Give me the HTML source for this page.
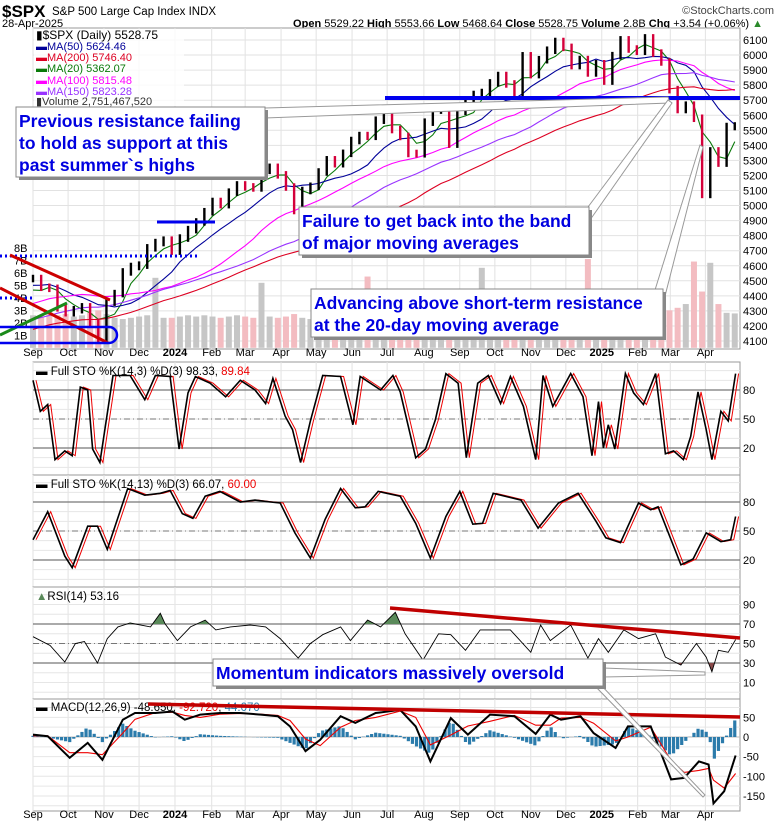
<!DOCTYPE html>
<html><head><meta charset="utf-8"><style>
html,body{margin:0;padding:0;background:#fff}
svg{display:block;font-family:"Liberation Sans",sans-serif}
.ax{font-size:11px;fill:#000}
.callout{font-weight:bold;fill:#0000e0;font-size:17.5px}
</style></head><body>
<svg id="chart" width="780" height="828" viewBox="0 0 780 828">
<g id="header">
<text x="2" y="17" font-size="17" font-weight="bold">$SPX</text>
<text x="52" y="15" font-size="11.5">S&amp;P 500 Large Cap Index  INDX</text>
<text x="2" y="27" font-size="11">28-Apr-2025</text>
<text x="774" y="14" font-size="11" text-anchor="end" fill="#444">©StockCharts.com</text>
<text x="763" y="27" font-size="11" text-anchor="end"><tspan font-weight="bold">Open</tspan> 5529.22 <tspan font-weight="bold">High</tspan> 5553.66 <tspan font-weight="bold">Low</tspan> 5468.64 <tspan font-weight="bold">Close</tspan> 5528.75 <tspan font-weight="bold">Volume</tspan> 2.8B <tspan font-weight="bold">Chg</tspan> +3.54 (+0.06%) <tspan fill="#2a8a2a">▲</tspan></text>
</g>
<g id="grid"></g>
<g id="marks"></g>
<g id="overlay"></g>
</svg>
<script>
// ---------- data ----------
const histCloses=[3990,4026,4071,3934,3852,3895,3844,3839,3895,3999,3972,4070,4136,4090,4079,3970,3970,4045,3861,3916,3971,3970,4109,4105,4137,4133,4135,4136,4124,4191,4151,4205,4282,4298,4409,4348,4450,4398,4505,4536,4582,4478,4464,4369,4405];
const closes=[4515,4457,4450,4320,4288,4308,4327,4224,4117,4358,4415,4559,4595,4604,4719,4754,4770,4697,4784,4840,4891,4959,5027,5006,5089,5137,5124,5117,5234,5254,5204,5123,4967,5100,5128,5223,5304,5278,5347,5432,5465,5460,5567,5615,5505,5459,5346,5344,5554,5634,5648,5408,5626,5702,5738,5751,5815,5864,5808,5728,5995,5870,5969,6032,6090,6051,5930,5970,5881,5942,5827,5996,6101,6040,6025,6114,6013,5954,5770,5638,5667,5580,5074,5363,5282,5525,5528.75];
const volumes=[2.6,2.5,3.0,2.6,2.7,2.5,2.6,2.8,3.0,2.7,2.4,2.3,2.4,2.5,2.6,5.6,2.4,2.4,2.5,2.6,2.5,2.6,2.5,2.4,2.5,2.6,2.5,2.4,5.2,2.5,2.4,2.5,2.7,2.4,2.3,2.3,2.5,2.4,2.4,2.5,2.4,5.7,2.4,2.4,2.6,2.6,2.8,2.5,2.4,2.3,2.3,2.4,2.4,2.5,2.4,6.4,2.4,2.5,2.5,2.6,2.7,2.5,2.4,2.5,2.6,2.5,2.5,2.5,7.1,2.6,2.6,2.8,2.5,2.6,2.5,2.5,2.6,2.8,3.0,3.2,3.5,6.9,4.5,6.8,3.5,2.8,2.75];
const maPeriods=[4,10,20,30,40];
const maColors=["#0a7a0a","#000099","#ff00ff","#9933ff","#dd0022"];
const priceTicks=[4100,4200,4300,4400,4500,4600,4700,4800,4900,5000,5100,5200,5300,5400,5500,5600,5700,5800,5900,6000,6100];
const volTicks=[1,2,3,4,5,6,7,8];
const monthLabels=["Sep","Oct","Nov","Dec","2024","Feb","Mar","Apr","May","Jun","Jul","Aug","Sep","Oct","Nov","Dec","2025","Feb","Mar","Apr"];
const monthWeeks=[0,4.3,8.7,13,17.4,21.9,26,30.4,34.7,39.1,43.4,47.9,52.3,56.6,61,65.3,69.7,74.1,78.1,82.4];
const sto1Weeks=[0,0.9,1.8,2.7,3.9,4.8,5.8,6.7,7.3,8.2,9.8,11.9,13.7,15,16.8,17.9,19,19.9,21.7,23.6,25.4,27.2,28.5,29.4,30.9,31.8,32.8,34,35.5,37.7,39.2,40.1,42.6,44.1,45,46.9,48.1,49.3,50.6,52.1,53.1,54.5,55.8,57.3,58.5,60.1,61.6,62.5,63.7,65.9,67.4,68.5,69.3,69.9,70.5,71.3,72.6,73.6,74.8,76.3,77.5,78.5,79.7,80.6,81.5,82.5,83.2,84.3,85.2,86.1];
const sto1K=[90,58,65,8,17,12,83,80,19,5,95,95,70,95,94,19,77,94,87,73,90,80,66,92,53,39,5,48,95,94,44,94,80,95,78,10,19,49,97,87,10,87,95,66,94,63,8,95,63,97,73,12,68,20,44,19,97,77,65,97,14,17,8,32,78,39,8,58,48,97];
const sto2Weeks=[0,1.8,3.9,4.8,6.7,7.9,9.1,11.6,13.7,15.6,16.8,18.3,19.6,21.1,22.9,25.4,27.2,29.1,30.3,32.1,34,35.8,37.7,39.5,40.7,42.3,45,46.9,48.7,50.6,52.3,53.9,55.1,56.4,59.8,61.9,64.4,66.8,69,70.2,72,74.2,75.7,76.6,79.4,80.9,82.5,84.3,85.5,86.1];
const sto2K=[41,70,24,12,55,55,31,94,87,89,92,68,63,86,91,80,82,80,79,48,22,62,94,74,75,91,86,58,22,65,91,57,58,89,82,53,79,89,60,43,38,79,72,75,15,21,48,39,41,65];
const rsiWeeks=[0,2.1,3.9,5.2,6.3,7.9,9.1,10.4,11.9,14.4,15.6,16.2,17.7,19.3,21.1,22.4,24.2,26.6,28.5,30.3,32.5,34,35.5,37.7,38.9,41,42.6,44.4,45.6,47.8,49.7,51.2,53,54.8,56.7,58.5,61,62.2,63.4,65.9,68,69.3,70.5,72.4,74.2,76.3,77.5,79.4,81.3,82.5,83.2,84,85.2,86.1];
const rsiVals=[57,48,31,50,52,30,55,67,71,67,81,70,53,67,74,64,67,69,67,55,35,50,59,67,53,74,67,82,60,33,60,59,43,64,64,64,41,69,53,69,35,55,41,64,55,60,36,28,50,36,21,43,41,54];
const macdWeeks=[0,1.8,4.5,6.7,8.5,11,12.5,15,17.1,18.6,20.5,22.9,25.4,27.9,30,31.5,33.4,35.2,37.7,39.5,42,45,46.9,48.7,51.2,53.3,56,59,61.6,63.4,64.7,67.1,68.7,71.4,72.9,75.7,78.2,79.8,81.6,82.8,83.4,84.7,86.1];
const macdVals=[6,2,-53,-15,-58,44,61,61,65,44,57,61,61,57,53,27,-36,-7,53,36,61,69,27,-62,48,6,57,53,8,57,44,53,10,-28,27,27,-108,-104,-62,-70,-169,-138,-47];
const macdSignal=[3,3,-40,-40,-45,10,45,62,63,55,50,58,60,58,55,42,-5,-22,25,42,50,66,50,-20,5,28,40,55,30,30,48,50,35,-10,0,25,-60,-90,-85,-80,-110,-130,-93];
const rsiTicks=[10,30,50,70,90];
const stoTicks=[20,50,80];
const macdTicks=[50,0,-50,-100,-150];

// ---------- scales ----------
const X0=33,X1=740;
const xw=w=>X0+w*8.16;
const yP=p=>40+(6100-p)*0.1505;
const yV=v=>347.8-v*12.5;
const yS1=v=>419-(v-50)*0.967;
const yS2=v=>531-(v-50)*0.967;
const yR=v=>643.5-(v-50)*0.975;
const yM=v=>737-v*0.393;
const NS="http://www.w3.org/2000/svg";
const grid=document.getElementById('grid'),marks=document.getElementById('marks'),overlay=document.getElementById('overlay');
function mk(tag,attrs,parent){const e=document.createElementNS(NS,tag);for(const k in attrs)e.setAttribute(k,attrs[k]);parent.appendChild(e);return e;}
function interp(ws,vs,w){if(w<=ws[0])return vs[0];for(let i=1;i<ws.length;i++){if(w<=ws[i]){const t=(w-ws[i-1])/(ws[i]-ws[i-1]);return vs[i-1]+t*(vs[i]-vs[i-1]);}}return vs[vs.length-1];}
function pathOf(ws,vs,ys,dx){return ws.map((w,i)=>(i?'L':'M')+(xw(w)+(dx||0)).toFixed(1)+' '+ys(vs[i]).toFixed(1)).join(' ');}

const panels=[[28,349,'main-panel'],[362,475,'sto-fast-panel'],[475,587,'sto-slow-panel'],[587,699,'rsi-panel'],[699,811,'macd-panel']];
panels.forEach(p=>{
  const r=mk('rect',{x:X0,y:p[0],width:X1-X0,height:p[1]-p[0],fill:'#fff',stroke:'#999','stroke-width':1},grid);
  
  
  monthWeeks.forEach(w=>{const l=mk('line',{x1:xw(w),x2:xw(w),y1:p[0],y2:p[1],stroke:'#e2e2e2'},grid);
    
    });
});
priceTicks.forEach(p=>{
  const l=mk('line',{x1:X0,x2:X1,y1:yP(p),y2:yP(p),stroke:'#e2e2e2'},grid);
  
  
  const t=mk('text',{x:743,y:yP(p)+4,class:'ax'},grid);t.textContent=p;
  
  
});
volTicks.forEach(v=>{const t=mk('text',{x:14,y:yV(v)+4,class:'ax'},grid);t.textContent=v+'B';
  
  });
[[356],[818]].forEach(r=>{
  monthLabels.forEach((m,i)=>{const t=mk('text',{x:xw(monthWeeks[i]),y:r[0],class:'ax','text-anchor':'middle','font-weight':(m.length===4?'bold':'normal')},grid);t.textContent=m;
    
    });
});
function oscGrid(ys,ticks,major,mid,lo,hi,step,name){
  for(let v=lo;v<=hi;v+=step){const l=mk('line',{x1:X0,x2:X1,y1:ys(v),y2:ys(v),stroke:'#e6e6e6'},grid);
    
    }
  major.forEach(v=>{const l=mk('line',{x1:X0,x2:X1,y1:ys(v),y2:ys(v),stroke:'#777','stroke-width':1.3},grid);
    
    });
  if(mid!==null){const l=mk('line',{x1:X0,x2:X1,y1:ys(mid),y2:ys(mid),stroke:'#777','stroke-dasharray':'6,3,1,3'},grid);
    
    }
  ticks.forEach(v=>{const t=mk('text',{x:743,y:ys(v)+4,class:'ax'},grid);t.textContent=v;
    
    });
}
oscGrid(yS1,stoTicks,[20,80],50,0,100,10,'sto-fast');
oscGrid(yS2,stoTicks,[20,80],50,0,100,10,'sto-slow');
oscGrid(yR,rsiTicks,[30,70],50,0,100,10,'rsi');
oscGrid(yM,macdTicks,[],null,-175,75,25,'macd');
{const l=mk('line',{x1:X0,x2:X1,y1:yM(0),y2:yM(0),stroke:'#bbb'},grid);}

volumes.forEach((v,i)=>{
  const up=i===0||closes[i]>=closes[i-1];
  const b=mk('rect',{x:xw(i)-3,y:yV(v),width:6,height:yV(0)-yV(v),fill:up?'#c6c6c6':'#f3bcc1'},marks);
  
  
});
const all=histCloses.concat(closes);
maPeriods.forEach((n,k)=>{
  let d='';
  closes.forEach((c,i)=>{const j=i+histCloses.length;let s=0;for(let q=j-n+1;q<=j;q++)s+=all[q];d+=(i?'L':'M')+xw(i).toFixed(1)+' '+yP(s/n).toFixed(1)+' ';});
  const p=mk('path',{d:d,fill:'none',stroke:maColors[k],'stroke-width':1.1},marks);
  
  
});
closes.forEach((c,i)=>{
  const prev=i?closes[i-1]:c;
  const hi=Math.max(c,prev)+25,lo=Math.min(c,prev)-25;
  const up=c>=prev;
  const b=mk('rect',{x:xw(i)-1.2,y:yP(hi),width:2.4,height:yP(lo)-yP(hi),fill:up?'#000':'#d4003a'},marks);
  
  
});
function osc(ws,vs,ys,name,lag,black){
  const r=mk('path',{d:pathOf(ws,vs,ys,lag),fill:'none',stroke:'#e00','stroke-width':1},marks);
  
  
  const b=mk('path',{d:pathOf(ws,vs,ys,0),fill:'none',stroke:'#000','stroke-width':black},marks);
  
  
}
osc(sto1Weeks,sto1K,yS1,'sto-fast',3,1.6);
osc(sto2Weeks,sto2K,yS2,'sto-slow',3,1.6);
const defs=mk('defs',{},marks);
const c1=mk('clipPath',{id:'above70'},defs);mk('rect',{x:X0,y:587,width:X1-X0,height:yR(70)-587},c1);
const c2=mk('clipPath',{id:'below30'},defs);mk('rect',{x:X0,y:yR(30),width:X1-X0,height:699-yR(30)},c2);
const rd=pathOf(rsiWeeks,rsiVals,yR,0);
const f1=mk('path',{d:rd+' L'+xw(86.1)+' '+yR(70)+' L'+xw(0)+' '+yR(70)+' Z',fill:'#5a8a5a','clip-path':'url(#above70)'},marks);

const f2=mk('path',{d:rd+' L'+xw(86.1)+' '+yR(30)+' L'+xw(0)+' '+yR(30)+' Z',fill:'#8a4a4a','clip-path':'url(#below30)'},marks);

{const p=mk('path',{d:rd,fill:'none',stroke:'#000','stroke-width':0.9},marks);}
for(let w=0;w<=86;w+=0.5){
  const h=interp(macdWeeks,macdVals,w)-interp(macdWeeks,macdSignal,w);
  const r=mk('rect',{x:xw(w)-1.6,y:Math.min(yM(0),yM(h)),width:3.2,height:Math.abs(yM(h)-yM(0)),fill:'#2b7bab'},marks);
  
  
}
{const p=mk('path',{d:pathOf(macdWeeks,macdSignal,yM,0),fill:'none',stroke:'#e00','stroke-width':1.1},marks);}
{const p=mk('path',{d:pathOf(macdWeeks,macdVals,yM,0),fill:'none',stroke:'#000','stroke-width':2},marks);}
</script>
<svg width="780" height="828" viewBox="0 0 780 828" style="position:absolute;left:0;top:0">
<g font-size="11">
<rect x="34" y="29" width="150" height="77" fill="#fff" opacity="0.8"/>
<text x="36" y="39" font-size="12">▮$SPX (Daily) 5528.75</text>
<text x="36" y="50" fill="#000099">▬MA(50) 5624.46</text>
<text x="36" y="61" fill="#dd0022">▬MA(200) 5746.40</text>
<text x="36" y="72" fill="#0a7a0a">▬MA(20) 5362.07</text>
<text x="36" y="84" fill="#ff00ff">▬MA(100) 5815.48</text>
<text x="36" y="95" fill="#9933ff">▬MA(150) 5823.28</text>
<text x="36" y="105" fill="#333">▮Volume 2,751,467,520</text>
</g>
<text x="36" y="375" font-size="11.5">▬ Full STO %K(14,3) %D(3) 98.33, <tspan fill="#e00">89.84</tspan></text>
<text x="36" y="488" font-size="11.5">▬ Full STO %K(14,13) %D(3) 66.07, <tspan fill="#e00">60.00</tspan></text>
<text x="36" y="600" font-size="11.5"><tspan fill="#5a8a5a">▲</tspan>RSI(14) 53.16</text>
<text x="36" y="711" font-size="11.5">▬ MACD(12,26,9) -48.650, <tspan fill="#e00">-92.720</tspan>, <tspan fill="#2b7bab">44.070</tspan></text>
<g>
<line x1="385" y1="98" x2="740" y2="98" stroke="#0000ee" stroke-width="4"/>
<line x1="157" y1="222" x2="215" y2="222" stroke="#0000ee" stroke-width="3"/>
<line x1="0" y1="256" x2="200" y2="256" stroke="#0000ee" stroke-width="3" stroke-dasharray="2,3"/>
<line x1="0" y1="298" x2="33" y2="298" stroke="#0000ee" stroke-width="3" stroke-dasharray="2,3"/>
<line x1="10" y1="255" x2="110" y2="300" stroke="#cc0000" stroke-width="3"/>
<line x1="0" y1="288" x2="108" y2="343" stroke="#cc0000" stroke-width="3"/>
<line x1="0" y1="335" x2="67" y2="303" stroke="#1a8a1a" stroke-width="3"/>
<rect x="-10" y="327" width="127" height="16" rx="8" fill="none" stroke="#0000ee" stroke-width="2.5"/>
<line x1="390" y1="608" x2="740" y2="638" stroke="#c00000" stroke-width="3.5"/>
<line x1="148" y1="704" x2="740" y2="717" stroke="#c00000" stroke-width="3.5"/>
</g>
<g>
<polygon points="265,108 668,97 670,103 265,118" fill="#fff" stroke="#999"/>
<rect x="19" y="110" width="249" height="70" fill="#888"/>
<rect x="16" y="107" width="249" height="70" fill="#fff" stroke="#888"/>
<text class="callout" x="19" y="127">Previous resistance failing</text>
<text class="callout" x="19" y="149">to hold as support at this</text>
<text class="callout" x="19" y="171">past summer`s highs</text>
</g>
<g>
<polygon points="588,207 668,100 672,103 590,220" fill="#fff" stroke="#999"/>
<rect x="302" y="210" width="290" height="48" fill="#888"/>
<rect x="299" y="207" width="290" height="48" fill="#fff" stroke="#888"/>
<text class="callout" x="302" y="227">Failure to get back into the band</text>
<text class="callout" x="302" y="249">of major moving averages</text>
</g>
<g>
<polygon points="655,290 700,145 703,147 664,300" fill="#fff" stroke="#999"/>
<rect x="314" y="292" width="352" height="48" fill="#888"/>
<rect x="311" y="289" width="352" height="48" fill="#fff" stroke="#888"/>
<text class="callout" x="314" y="309">Advancing above short-term resistance</text>
<text class="callout" x="314" y="331">at the 20-day moving average</text>
</g>
<g>
<polygon points="603,668 705,672 705,675 603,677" fill="#fff" stroke="#999"/>
<polygon points="600,684 705,795 703,797 595,686" fill="#fff" stroke="#999"/>
<rect x="216" y="662" width="390" height="27" fill="#888"/>
<rect x="213" y="659" width="390" height="27" fill="#fff" stroke="#888"/>
<text class="callout" x="216" y="679">Momentum indicators massively oversold</text>
</g>
</svg>
</body></html>
